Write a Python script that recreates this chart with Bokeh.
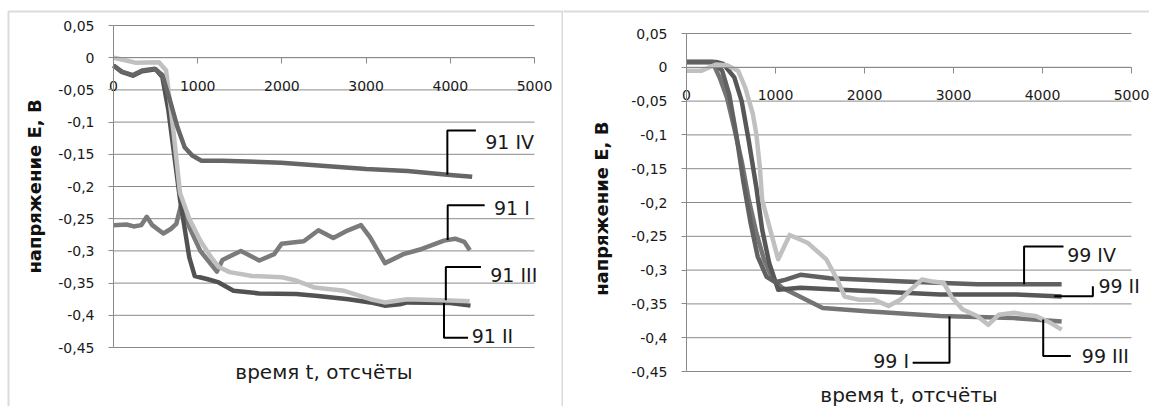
import numpy as np
from bokeh.plotting import figure
from bokeh.layouts import row
from bokeh.models import Range1d, FixedTicker, BoxAnnotation, Label
from bokeh.embed import file_html
from bokeh.resources import INLINE

# ---------------- data ----------------
x_ticks = [0, 1000, 2000, 3000, 4000, 5000]
x_tick_labels = ["0", "1000", "2000", "3000", "4000", "5000"]
y_ticks = [0.05, 0.0, -0.05, -0.1, -0.15, -0.2, -0.25, -0.3, -0.35, -0.4, -0.45]
y_tick_labels = ["0,05", "0", "-0,05", "-0,1", "-0,15", "-0,2", "-0,25", "-0,3", "-0,35", "-0,4", "-0,45"]

x_title = "время t, отсчёты"
y_title_left = "напряжение E, В"
y_title_right = "напряжение  E,  В"

names_91 = ["91 I", "91 II", "91 III", "91 IV"]
t_91_1 = [0, 154, 241, 329, 395, 461, 592, 680, 746, 811, 900, 1031, 1228, 1294, 1513, 1732, 1908, 1996,
          2259, 2434, 2610, 2785, 2939, 3048, 3224, 3443, 3662, 3925, 4057, 4167, 4232]
v_91_1 = [-0.260, -0.259, -0.262, -0.260, -0.247, -0.260, -0.273, -0.266, -0.258, -0.224, -0.263, -0.300,
          -0.332, -0.314, -0.300, -0.315, -0.305, -0.289, -0.285, -0.268, -0.280, -0.268, -0.260, -0.279,
          -0.319, -0.305, -0.297, -0.284, -0.281, -0.286, -0.299]
t_91_2 = [0, 100, 230, 340, 500, 580, 650, 720, 790, 855, 900, 965, 1120, 1250, 1425, 1730, 2170, 2430,
          2790, 3050, 3220, 3400, 3490, 4000, 4240]
v_91_2 = [-0.012, -0.022, -0.028, -0.021, -0.018, -0.030, -0.080, -0.150, -0.220, -0.273, -0.310, -0.339,
          -0.344, -0.349, -0.362, -0.366, -0.367, -0.370, -0.375, -0.380, -0.385, -0.383, -0.380, -0.381, -0.385]
t_91_3 = [0, 140, 270, 540, 625, 715, 790, 900, 1030, 1160, 1250, 1380, 1645, 2000, 2170, 2390, 2740, 3050,
          3220, 3490, 4000, 4230]
v_91_3 = [0.0, -0.004, -0.008, -0.007, -0.020, -0.118, -0.210, -0.250, -0.284, -0.310, -0.325, -0.333,
          -0.339, -0.341, -0.346, -0.357, -0.362, -0.375, -0.380, -0.375, -0.377, -0.378]
t_91_4 = [0, 100, 230, 340, 490, 580, 670, 760, 845, 935, 1045, 1290, 1990, 3000, 3490, 4000, 4260]
v_91_4 = [-0.012, -0.022, -0.027, -0.020, -0.017, -0.027, -0.066, -0.108, -0.139, -0.152, -0.160, -0.160,
          -0.163, -0.173, -0.176, -0.182, -0.185]

names_99 = ["99 I", "99 II", "99 III", "99 IV"]
t_99_1 = [0, 290, 372, 455, 537, 620, 700, 785, 870, 970, 1075, 1530, 2025, 2850, 3680, 4215]
v_99_1 = [0.008, 0.008, -0.015, -0.045, -0.090, -0.139, -0.196, -0.245, -0.284, -0.314, -0.326, -0.356,
          -0.361, -0.368, -0.371, -0.376]
t_99_2 = [0, 330, 413, 537, 620, 700, 785, 850, 930, 1030, 1280, 2025, 2850, 3680, 4215]
v_99_2 = [0.008, 0.008, 0.005, -0.015, -0.050, -0.109, -0.178, -0.240, -0.290, -0.329, -0.326, -0.331,
          -0.336, -0.336, -0.339]
t_99_3 = [0, 170, 330, 455, 580, 660, 745, 785, 825, 850, 950, 1030, 1160, 1365, 1570, 1695, 1775, 1940,
          2110, 2270, 2400, 2520, 2645, 2770, 2890, 2975, 3100, 3265, 3390, 3510, 3680, 3800, 3925, 4090, 4215]
v_99_3 = [-0.005, -0.005, 0.004, 0.003, -0.005, -0.030, -0.069, -0.099, -0.149, -0.196, -0.245, -0.284,
          -0.248, -0.260, -0.284, -0.314, -0.339, -0.344, -0.344, -0.353, -0.344, -0.329, -0.314, -0.317,
          -0.319, -0.339, -0.358, -0.368, -0.381, -0.366, -0.363, -0.366, -0.368, -0.378, -0.388]
t_99_4 = [0, 300, 400, 480, 560, 640, 720, 800, 900, 1000, 1115, 1280, 1610, 2440, 3265, 4215]
v_99_4 = [0.008, 0.008, -0.005, -0.040, -0.100, -0.170, -0.230, -0.280, -0.310, -0.318, -0.314, -0.307,
          -0.312, -0.317, -0.321, -0.321]

# ---------------- styling / layout ----------------
H = 406
W1 = 563
W2 = 586
GRID = "#8a8a8a"
TXT = "#1a1a1a"
FONT = "DejaVu Sans"

colors_91 = ["#7b7b7b", "#525252", "#c0c0c0", "#666666"]
colors_99 = ["#747474", "#575757", "#c0c0c0", "#616161"]
order_91 = [0, 1, 2, 3]
order_99 = [0, 1, 3, 2]

# callouts: text, series index, anchor x, kind, elbow x, elbow y, text x, text y, align
callouts_91 = [
    ("91 IV", 3, 3965, "v", 4304, -0.113, 4414, -0.131, "left"),
    ("91 I", 0, 3969, "v", 4408, -0.229, 4518, -0.234, "left"),
    ("91 III", 2, 3947, "v", 4364, -0.325, 4474, -0.337, "left"),
    ("91 II", 1, 3925, "v", 4211, -0.435, 4254, -0.432, "left"),
]
callouts_99 = [
    ("99 IV", 3, 3793, "v", 4236, -0.265, 4277, -0.277, "left"),
    ("99 II", 1, 4132, "h", 4566, -0.324, 4628, -0.324, "left"),
    ("99 III", 2, 4008, "v", 4318, -0.427, 4442, -0.427, "left"),
    ("99 I", 0, 2955, "v", 2541, -0.437, 2500, -0.435, "right"),
]


def make_panel(width, px0, px1, py0, py1, ts, vs, colors, order, callouts,
               ylabel, ylabel_standoff, xlabel_standoff, box):
    # px0/px1: canvas x of first/last x tick; py0/py1: canvas y of top/bottom y tick
    x0, x1 = x_ticks[0], x_ticks[-1]
    ytop, ybot = y_ticks[0], y_ticks[-1]
    sx = (x1 - x0) / (px1 - px0)
    sy = (ytop - ybot) / (py1 - py0)
    xr = Range1d(x0 - px0 * sx, x1 + (width - px1) * sx)
    yr = Range1d(ybot - (H - py1) * sy, ytop + py0 * sy)

    p = figure(width=width, height=H, output_backend="svg", toolbar_location=None,
               x_range=xr, y_range=yr, min_border=0)
    p.outline_line_color = None
    p.background_fill_color = "white"
    p.border_fill_color = "white"
    p.xgrid.visible = False
    p.ygrid.visible = False

    # horizontal gridlines over the plot area
    n = len(y_ticks)
    p.segment(x0=[x0] * n, x1=[x1] * n, y0=y_ticks, y1=y_ticks, line_color=GRID, line_width=1)

    xa = p.xaxis[0]
    xa.fixed_location = 0
    xa.bounds = (x0, x1)
    xa.ticker = FixedTicker(ticks=x_ticks)
    xa.major_label_overrides = dict(zip(x_ticks, x_tick_labels))
    xa.axis_line_color = GRID
    xa.major_tick_line_color = GRID
    xa.major_tick_in = 0
    xa.major_tick_out = 6
    xa.minor_tick_line_color = None
    xa.major_label_standoff = 17
    xa.major_label_text_font = FONT
    xa.major_label_text_font_size = "14px"
    xa.major_label_text_color = TXT
    xa.axis_label = x_title
    xa.axis_label_text_font = FONT
    xa.axis_label_text_font_style = "normal"
    xa.axis_label_text_font_size = "20px"
    xa.axis_label_text_color = TXT
    xa.axis_label_standoff = xlabel_standoff

    ya = p.yaxis[0]
    ya.fixed_location = 0
    ya.bounds = (ybot, ytop)
    ya.ticker = FixedTicker(ticks=y_ticks)
    ya.major_label_overrides = dict(zip(y_ticks, y_tick_labels))
    ya.axis_line_color = GRID
    ya.major_tick_line_color = GRID
    ya.major_tick_in = 0
    ya.major_tick_out = 5
    ya.minor_tick_line_color = None
    ya.major_label_standoff = 14
    ya.major_label_text_font = FONT
    ya.major_label_text_font_size = "14px"
    ya.major_label_text_color = TXT
    ya.axis_label = ylabel
    ya.axis_label_text_font = FONT
    ya.axis_label_text_font_style = "bold"
    ya.axis_label_text_font_size = "18px"
    ya.axis_label_text_color = "#111111"
    ya.axis_label_standoff = ylabel_standoff

    for i in order:
        p.line(ts[i], vs[i], line_color=colors[i], line_width=4.5, line_join="round")

    for (txt, si, ax, kind, ex, ey, tx, ty, align) in callouts:
        ay = float(np.interp(ax, ts[si], vs[si]))
        if kind == "v":
            xs, ys = [ax, ax, ex], [ay, ey, ey]
        else:
            xs, ys = [ax, ex, ex], [ay, ay, ey]
        p.line(xs, ys, line_color="black", line_width=2)
        p.add_layout(Label(x=tx, y=ty, text=txt, text_font=FONT, text_font_size="19px",
                           text_color=TXT, text_baseline="middle", text_align=align))

    p.add_layout(BoxAnnotation(left=box[0], right=box[1], top=box[2], bottom=box[3],
                               left_units="canvas", right_units="canvas",
                               top_units="canvas", bottom_units="canvas",
                               fill_alpha=0, line_color="#878787", line_width=2, level="overlay"))
    return p


p1 = make_panel(W1, 113, 534, 25, 347,
                [t_91_1, t_91_2, t_91_3, t_91_4], [v_91_1, v_91_2, v_91_3, v_91_4],
                colors_91, order_91, callouts_91, y_title_left, 10, 266, (8, W1 - 1, 11, H + 20))
p2 = make_panel(W2, 123, 568, 33, 371,
                [t_99_1, t_99_2, t_99_3, t_99_4], [v_99_1, v_99_2, v_99_3, v_99_4],
                colors_99, order_99, callouts_99, y_title_right, 16, 279, (-20, W2 + 20, 11, H + 20))

layout = row(p1, p2)
open("out.html", "w").write(file_html(layout, INLINE))
